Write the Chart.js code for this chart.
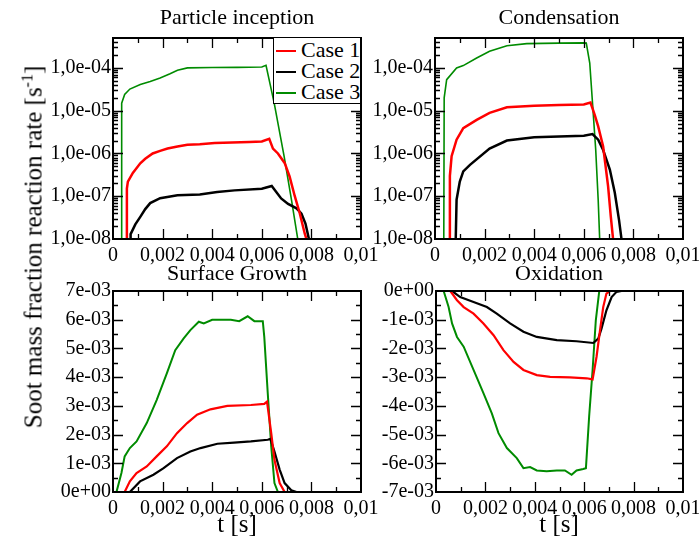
<!DOCTYPE html>
<html>
<head>
<meta charset="utf-8">
<script src="https://cdn.jsdelivr.net/npm/chart.js@4"></script>
<style>
  body { margin: 0; background: #fff; width: 699px; height: 545px; position: relative; overflow: hidden;
         font-family: "Liberation Serif", "Times New Roman", serif; color: #000; }
  canvas { position: absolute; }
  .lbl { position: absolute; transform: translate(-50%, -50%); white-space: nowrap; line-height: 1; }
  .title { font-size: 22px; }
  .xtitle { font-size: 25px; }
  #ytitle { font-size: 25px; transform: translate(-50%, -50%) rotate(-90deg); }
  #ytitle sup { font-size: 16px; vertical-align: 9px; line-height: 0; }
  #legend { position: absolute; left: 273px; top: 37px; width: 86px; height: 65px;
            border: 1.5px solid #000; background: #fff; }
  #legend div { position: absolute; left: 0; width: 86px; height: 22px; font-size: 22px; line-height: 22px; white-space: nowrap; }
  #legend span.sw { position: absolute; left: 2px; top: 11px; width: 20px; height: 2px; }
  #legend span.tx { position: absolute; left: 27px; top: 0; white-space: nowrap; }
</style>
</head>
<body>
<canvas id="c1" width="382" height="265" style="left:0;top:0"></canvas>
<canvas id="c2" width="369" height="265" style="left:330px;top:0"></canvas>
<canvas id="c3" width="382" height="295" style="left:0;top:250px"></canvas>
<canvas id="c4" width="369" height="295" style="left:330px;top:250px"></canvas>

<div class="lbl title" style="left:237px;top:17px">Particle inception</div>
<div class="lbl title" style="left:559px;top:17px">Condensation</div>
<div class="lbl title" style="left:237px;top:273px">Surface Growth</div>
<div class="lbl title" style="left:559px;top:273px">Oxidation</div>
<div class="lbl xtitle" style="left:237px;top:523px">t [s]</div>
<div class="lbl xtitle" style="left:559px;top:523px">t [s]</div>
<div class="lbl" id="ytitle" style="left:33px;top:247px">Soot mass fraction reaction rate [s<sup>-1</sup>]</div>

<div id="legend">
  <div style="top:1px"><span class="sw" style="background:#ff0000"></span><span class="tx">Case 1</span></div>
  <div style="top:22px"><span class="sw" style="background:#000000"></span><span class="tx">Case 2</span></div>
  <div style="top:43px"><span class="sw" style="background:#008b00"></span><span class="tx">Case 3</span></div>
</div>

<script>
// [t, value] pairs
const inceptionCase1 = [[0.00054, 1e-9], [0.00056, 1.5e-7], [0.0006, 2.2e-7], [0.0008, 3.5e-7], [0.0011, 5.9e-7],
  [0.0013, 7.5e-7], [0.0016, 1.0e-6], [0.0019, 1.15e-6], [0.0022, 1.3e-6], [0.0026, 1.45e-6], [0.003, 1.6e-6],
  [0.0035, 1.65e-6], [0.0041, 1.75e-6], [0.0048, 1.8e-6], [0.0055, 1.85e-6], [0.006, 1.9e-6], [0.0063, 2.2e-6],
  [0.00645, 1.3e-6], [0.00665, 1.0e-6], [0.00692, 6e-7], [0.00712, 2.9e-7], [0.00733, 1e-7], [0.00753, 4e-8],
  [0.00773, 1.35e-8], [0.0078, 1e-8], [0.0079, 1e-9]];
const inceptionCase2 = [[0.0007, 1e-9], [0.00071, 1.3e-8], [0.0009, 2.2e-8], [0.0011, 3.3e-8], [0.0013, 5e-8],
  [0.0015, 6.9e-8], [0.0019, 9e-8], [0.0026, 1.05e-7], [0.0035, 1.1e-7], [0.0042, 1.25e-7], [0.0049, 1.37e-7],
  [0.006, 1.5e-7], [0.0064, 1.74e-7], [0.00678, 8.9e-8], [0.00706, 6.6e-8], [0.0074, 5.2e-8], [0.0076, 3.9e-8],
  [0.00776, 2.3e-8], [0.0079, 1e-8], [0.008, 1e-9]];
const inceptionCase3 = [[0.00033, 1e-9], [0.00035, 1.5e-5], [0.00047, 2.4e-5], [0.00068, 3.2e-5], [0.0011, 4.1e-5],
  [0.0015, 4.8e-5], [0.0019, 5.8e-5], [0.0023, 7.3e-5], [0.0026, 8.8e-5], [0.003, 1.0e-4], [0.004, 1.02e-4],
  [0.005, 1.03e-4], [0.006, 1.05e-4], [0.00617, 1.15e-4], [0.0065, 1.5e-5], [0.0069, 8.5e-7], [0.0072, 8e-8],
  [0.00745, 1e-8], [0.0075, 1e-9]];

const condensationCase1 = [[0.00058, 1e-9], [0.0006, 3e-7], [0.00067, 8.6e-7], [0.00087, 2.1e-6], [0.00114, 3.9e-6],
  [0.00168, 6.1e-6], [0.0022, 8.9e-6], [0.0029, 1.2e-5], [0.004, 1.3e-5], [0.005, 1.35e-5], [0.006, 1.4e-5],
  [0.00627, 1.55e-5], [0.00644, 8e-6], [0.00658, 4.3e-6], [0.00678, 1.45e-6], [0.00698, 1.7e-7], [0.00709, 3.3e-8],
  [0.00718, 1e-8], [0.0072, 1e-9]];
const condensationCase2 = [[0.0008, 1e-9], [0.00087, 8.3e-8], [0.001, 2.2e-7], [0.00114, 3.8e-7], [0.00141, 5.4e-7],
  [0.0022, 1.3e-6], [0.0029, 2e-6], [0.004, 2.4e-6], [0.005, 2.5e-6], [0.006, 2.6e-6], [0.00635, 2.85e-6],
  [0.00658, 2.1e-6], [0.00678, 1.2e-6], [0.00705, 4.2e-7], [0.00725, 1.2e-7], [0.00742, 2.8e-8], [0.00752, 1e-8],
  [0.0076, 1e-9]];
const condensationCase3 = [[0.00035, 1e-9], [0.00037, 2e-5], [0.00047, 5.3e-5], [0.00087, 1.0e-4], [0.00114, 1.13e-4],
  [0.00168, 1.7e-4], [0.0022, 2.45e-4], [0.0029, 3.3e-4], [0.0037, 3.7e-4], [0.005, 3.8e-4], [0.006, 3.85e-4],
  [0.0061, 3.8e-4], [0.00624, 1.3e-4], [0.00637, 1.05e-5], [0.00648, 1.24e-6], [0.00658, 8.3e-8], [0.00664, 1e-8],
  [0.00666, 1e-9]];

const growthCase1 = [[0, 0], [0.00047, 0], [0.00068, 0.37e-3], [0.00095, 0.66e-3], [0.00136, 0.89e-3], [0.00176, 1.24e-3],
  [0.00217, 1.59e-3], [0.00258, 2.05e-3], [0.00299, 2.4e-3], [0.00339, 2.69e-3], [0.00393, 2.88e-3], [0.00461, 3.0e-3],
  [0.00556, 3.03e-3], [0.0061, 3.07e-3], [0.00621, 3.15e-3], [0.00638, 2.05e-3], [0.00651, 1.12e-3], [0.00672, 0.31e-3],
  [0.00692, 0], [0.01, 0]];
const growthCase2 = [[0, 0], [0.00068, 0], [0.00109, 0.37e-3], [0.00163, 0.6e-3], [0.00204, 0.83e-3], [0.00258, 1.18e-3],
  [0.00312, 1.41e-3], [0.00353, 1.53e-3], [0.00421, 1.68e-3], [0.00488, 1.72e-3], [0.00556, 1.76e-3], [0.00624, 1.82e-3],
  [0.00635, 1.85e-3], [0.00651, 1.41e-3], [0.00672, 0.78e-3], [0.00692, 0.31e-3], [0.00719, 0.06e-3], [0.0074, 0],
  [0.01, 0]];
const growthCase3 = [[0, 0], [0.00014, 0], [0.00034, 0.66e-3], [0.00047, 1.24e-3], [0.00068, 1.53e-3], [0.00095, 1.76e-3],
  [0.00136, 2.4e-3], [0.00176, 3.2e-3], [0.00217, 4.13e-3], [0.00251, 4.94e-3], [0.00285, 5.35e-3], [0.00312, 5.64e-3],
  [0.00346, 5.93e-3], [0.00366, 5.87e-3], [0.004, 6.0e-3], [0.00475, 6.0e-3], [0.00509, 5.95e-3], [0.00543, 6.12e-3],
  [0.0057, 5.95e-3], [0.00604, 5.95e-3], [0.0061, 5.4e-3], [0.00624, 3.44e-3], [0.00638, 1.59e-3], [0.00651, 0.31e-3],
  [0.00665, 0], [0.01, 0]];

const oxidationCase1 = [[0, 0], [0.00058, 0], [0.00085, -0.32e-3], [0.00112, -0.56e-3], [0.00152, -0.79e-3],
  [0.00192, -1.13e-3], [0.00233, -1.54e-3], [0.00273, -2.06e-3], [0.00314, -2.47e-3], [0.00354, -2.75e-3],
  [0.00408, -2.93e-3], [0.00462, -2.99e-3], [0.00542, -3.01e-3], [0.0061, -3.04e-3], [0.00634, -3.08e-3],
  [0.0065, -2.29e-3], [0.00664, -1.37e-3], [0.00677, -0.56e-3], [0.0069, -0.09e-3], [0.00704, 0], [0.01, 0]];
const oxidationCase2 = [[0, 0], [0.00065, 0], [0.00098, -0.21e-3], [0.00152, -0.38e-3], [0.00206, -0.56e-3],
  [0.00246, -0.79e-3], [0.003, -1.13e-3], [0.00354, -1.42e-3], [0.00408, -1.6e-3], [0.00489, -1.71e-3],
  [0.00569, -1.75e-3], [0.00637, -1.81e-3], [0.00657, -1.66e-3], [0.0067, -1.31e-3], [0.0069, -0.67e-3],
  [0.00711, -0.21e-3], [0.00731, -0.03e-3], [0.00751, 0], [0.01, 0]];
const oxidationCase3 = [[0, 0], [0.00031, 0], [0.00051, -0.56e-3], [0.00065, -1.13e-3], [0.00085, -1.6e-3],
  [0.00112, -1.94e-3], [0.00152, -2.75e-3], [0.00192, -3.56e-3], [0.00226, -4.26e-3], [0.00253, -4.95e-3],
  [0.00287, -5.47e-3], [0.00327, -5.82e-3], [0.00354, -6.17e-3], [0.00381, -6.13e-3], [0.00408, -6.25e-3],
  [0.00448, -6.28e-3], [0.00489, -6.25e-3], [0.00522, -6.25e-3], [0.00549, -6.4e-3], [0.00569, -6.25e-3],
  [0.00596, -6.2e-3], [0.00607, -6.17e-3], [0.0062, -4.37e-3], [0.00634, -2.75e-3], [0.00647, -1.02e-3],
  [0.00661, 0], [0.01, 0]];

const caseColors = ["#ff0000", "#000000", "#008b00"];
const FONT = '"Liberation Serif", "Times New Roman", serif';
const TICK_SIZE = 20;

function tickTime(v) {
  if (Math.abs(v) < 1e-12) return "0";
  return String(+v.toFixed(3)).replace(".", ",");
}
function tickLog(v) {
  const e = Math.log10(v);
  if (Math.abs(e - Math.round(e)) > 1e-6) return "";
  const n = Math.round(e);
  return "1,0e" + (n < 0 ? "-" : "+") + String(Math.abs(n)).padStart(2, "0");
}
function tickSci(v) {
  if (Math.abs(v) < 1e-12) return "0e+00";
  const e = Math.floor(Math.log10(Math.abs(v)) + 1e-9);
  const m = Math.round(v / Math.pow(10, e));
  return m + "e" + (e < 0 ? "-" : "+") + String(Math.abs(e)).padStart(2, "0");
}

// frame with inward major/minor ticks on all four sides
const framePlugin = {
  id: "frame",
  afterDatasetsDraw(chart) {
    const { ctx, chartArea: a, scales } = chart;
    const xs = scales.x, ys = scales.y;
    ctx.save();
    ctx.strokeStyle = "#000";
    ctx.lineWidth = 1.3;
    ctx.beginPath();
    for (let k = 1; k < 10; k++) {
      const px = Math.round(xs.getPixelForValue(k * 0.001)) + 0.5;
      const len = k % 2 === 0 ? 10 : 5;
      ctx.moveTo(px, a.bottom); ctx.lineTo(px, a.bottom - len);
      ctx.moveTo(px, a.top); ctx.lineTo(px, a.top + len);
    }
    const yt = [];
    if (ys.type === "logarithmic") {
      for (let e = -8; e <= -4; e++) {
        for (let m = 1; m <= 9; m++) {
          const v = m * Math.pow(10, e);
          if (v > ys.min && v < ys.max) yt.push([v, m === 1 ? 10 : 5]);
        }
      }
    } else {
      for (let k = 1; k < 14; k++) {
        yt.push([ys.min + k * 0.0005, k % 2 === 0 ? 10 : 5]);
      }
    }
    yt.forEach(([v, len]) => {
      const py = Math.round(ys.getPixelForValue(v)) + 0.5;
      ctx.moveTo(a.left, py); ctx.lineTo(a.left + len, py);
      ctx.moveTo(a.right, py); ctx.lineTo(a.right - len, py);
    });
    ctx.stroke();
    ctx.lineWidth = 2;
    ctx.strokeRect(a.left, a.top, a.right - a.left, a.bottom - a.top);
    ctx.restore();
  }
};

function makeChart(id, series, opts) {
  const ctx = document.getElementById(id).getContext("2d");
  return new Chart(ctx, {
    type: "line",
    data: {
      datasets: series.map((s, i) => ({
        label: "Case " + (i + 1),
        data: s.map(([x, y]) => ({ x, y })),
        borderColor: caseColors[i],
        borderWidth: opts.widths[i],
        pointRadius: 0,
        tension: 0,
        fill: false,
      })),
    },
    options: {
      responsive: false,
      animation: false,
      events: [],
      layout: { padding: { left: 0, top: opts.top, right: opts.right, bottom: 0 } },
      plugins: { legend: { display: false }, tooltip: { enabled: false } },
      scales: {
        x: {
          type: "linear", min: 0, max: 0.01,
          grid: { display: false, drawTicks: false }, border: { display: false },
          ticks: { stepSize: 0.002, autoSkip: false, maxRotation: 0, padding: 5, color: "#000",
                   font: { family: FONT, size: TICK_SIZE }, callback: tickTime },
          afterFit(s) { s.height = opts.xh; s.paddingLeft = 0; s.paddingRight = 0; },
        },
        y: Object.assign({
          grid: { display: false, drawTicks: false }, border: { display: false },
          afterFit(s) { s.width = opts.yw; s.paddingTop = 0; s.paddingBottom = 0; },
        }, opts.y),
      },
    },
    plugins: [framePlugin],
  });
}

const logY = {
  type: "logarithmic", min: 1e-8, max: 5e-4,
  ticks: { autoSkip: false, padding: 2, color: "#000", font: { family: FONT, size: TICK_SIZE }, callback: tickLog },
};
function linY(min, max) {
  return {
    type: "linear", min, max,
    ticks: { stepSize: 0.001, autoSkip: false, padding: 2, color: "#000", font: { family: FONT, size: TICK_SIZE }, callback: tickSci },
  };
}

makeChart("c1", [inceptionCase1, inceptionCase2, inceptionCase3],
  { top: 38, right: 21, xh: 26, yw: 113, widths: [2.5, 2.5, 1.6], y: logY });
makeChart("c2", [condensationCase1, condensationCase2, condensationCase3],
  { top: 38, right: 16, xh: 26, yw: 105, widths: [2.5, 2.5, 1.6], y: logY });
makeChart("c3", [growthCase1, growthCase2, growthCase3],
  { top: 41, right: 21, xh: 53, yw: 113, widths: [2.2, 2.2, 2], y: linY(0, 0.007) });
makeChart("c4", [oxidationCase1, oxidationCase2, oxidationCase3],
  { top: 41, right: 16, xh: 53, yw: 106, widths: [2.2, 2.2, 2], y: linY(-0.007, 0) });
</script>
</body>
</html>
